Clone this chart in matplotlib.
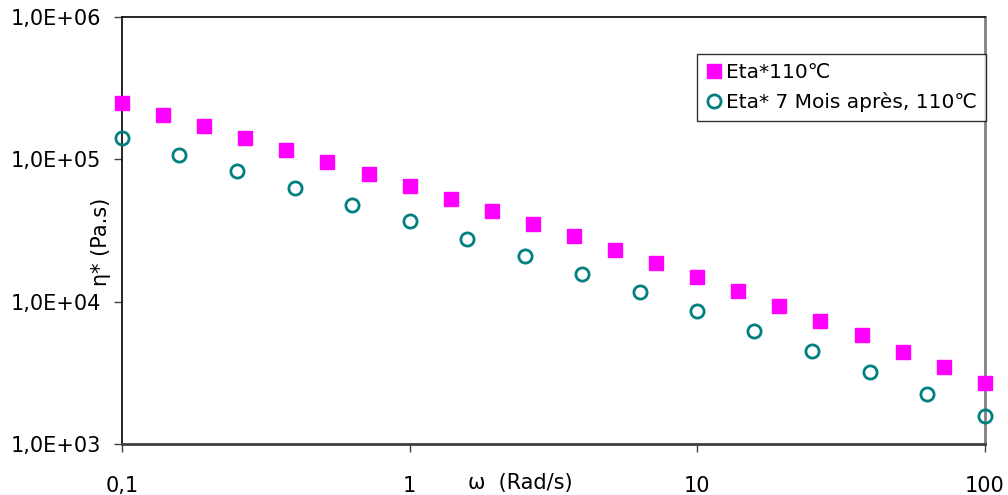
import matplotlib
matplotlib.use("Agg")
import matplotlib.pyplot as plt

plt.rcParams['font.family'] = ['DejaVu Sans']

# Data
omega_1 = [0.1, 0.139, 0.193, 0.268, 0.373, 0.518, 0.72, 1.0, 1.39, 1.93, 2.68,
           3.73, 5.18, 7.2, 10.0, 13.9, 19.3, 26.8, 37.3, 51.8, 72.0, 100.0]
eta_1 = [2.49e5, 2.06e5, 1.71e5, 1.41e5, 1.16e5, 9.53e4, 7.84e4, 6.45e4, 5.29e4,
         4.35e4, 3.54e4, 2.87e4, 2.32e4, 1.87e4, 1.50e4, 1.19e4, 9.37e3, 7.37e3,
         5.80e3, 4.46e3, 3.48e3, 2.69e3]
omega_2 = [0.1, 0.158, 0.251, 0.398, 0.631, 1.0, 1.58, 2.51, 3.98, 6.31, 10.0,
           15.8, 25.1, 39.8, 63.1, 100.0]
eta_2 = [1.42e5, 1.08e5, 8.22e4, 6.29e4, 4.80e4, 3.66e4, 2.77e4, 2.09e4, 1.56e4,
         1.16e4, 8.55e3, 6.22e3, 4.52e3, 3.20e3, 2.26e3, 1.58e3]
label_1 = "Eta*110\u2103"
label_2 = "Eta* 7 Mois apr\u00e8s, 110\u2103"
xticks = [0.1, 1, 10, 100]
xticklabels = ["0,1", "1", "10", "100"]
yticks = [1e3, 1e4, 1e5, 1e6]
yticklabels = ["1,0E+03", "1,0E+04", "1,0E+05", "1,0E+06"]

W, H = 1008, 495
fig = plt.figure(figsize=(W / 100, H / 100), dpi=100)
ax = fig.add_axes([122 / W, 1 - 444 / H, (985 - 122) / W, (444 - 17) / H])

ax.plot(omega_1, eta_1, linestyle='none', marker='s', markersize=10.5,
        color='#FF00FF', markeredgecolor='#FF00FF', label=label_1, clip_on=False, zorder=3)
ax.plot(omega_2, eta_2, linestyle='none', marker='o', markersize=9.5,
        markerfacecolor='none', markeredgecolor='#008080', markeredgewidth=2,
        label=label_2, clip_on=False, zorder=3)

ax.set_xscale('log')
ax.set_yscale('log')
ax.set_xlim(0.1, 100)
ax.set_ylim(1e3, 1e6)
ax.set_xticks(xticks)
ax.set_xticklabels(xticklabels)
ax.set_yticks(yticks)
ax.set_yticklabels(yticklabels)
ax.minorticks_off()

ax.tick_params(axis='x', direction='out', length=6, width=1, colors='#404040',
               labelcolor='black', labelsize=15, pad=17)
ax.tick_params(axis='y', direction='out', length=6, width=1, colors='#404040',
               labelcolor='black', labelsize=15, pad=9)

ax.spines['left'].set_color('black')
ax.spines['left'].set_linewidth(1.2)
ax.spines['bottom'].set_color('#404040')
ax.spines['bottom'].set_linewidth(2)
ax.spines['top'].set_color('black')
ax.spines['top'].set_linewidth(1.2)
ax.spines['right'].set_color('#808080')
ax.spines['right'].set_linewidth(2)

fig.text(520 / W, 1 - 483 / H, "\u03c9  (Rad/s)", ha='center', va='center', fontsize=15)
fig.text(101 / W, 1 - 242 / H, "\u03b7* (Pa.s)", ha='center', va='center',
         rotation=90, fontsize=15)

leg = ax.legend(loc='upper right', bbox_to_anchor=(986 / W, 1 - 54 / H),
                bbox_transform=fig.transFigure, frameon=True, fancybox=False,
                shadow=False, fontsize=14.5, borderaxespad=0, handlelength=0.8,
                handletextpad=0.2, labelspacing=0.5, borderpad=0.45)
leg.get_frame().set_edgecolor('black')
leg.get_frame().set_linewidth(1)

fig.savefig("out.png", dpi=100)
